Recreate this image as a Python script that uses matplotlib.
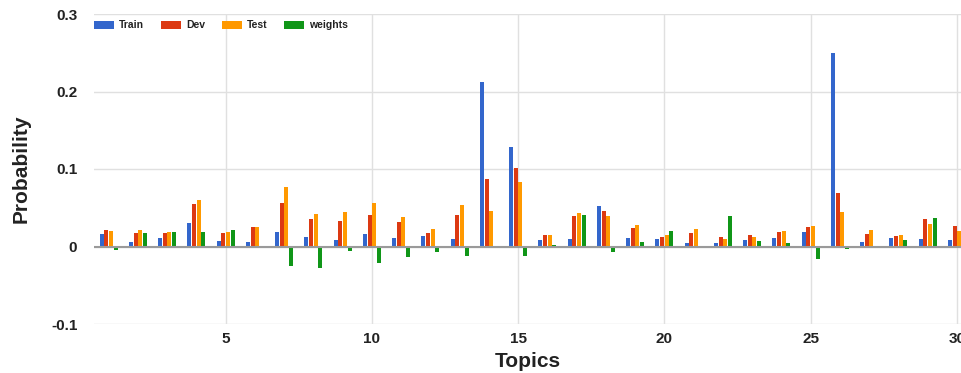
import matplotlib
matplotlib.use("Agg")
import matplotlib.pyplot as plt
import numpy as np

topics = list(range(1, 31))
train = [0.0164, 0.0060, 0.0108, 0.0297, 0.0069, 0.0056, 0.0190, 0.0129, 0.0086, 0.0155,
         0.0112, 0.0134, 0.0099, 0.2125, 0.1280, 0.0086, 0.0099, 0.0522, 0.0108, 0.0099,
         0.0047, 0.0047, 0.0082, 0.0112, 0.0181, 0.2502, 0.0056, 0.0108, 0.0099, 0.0086]
dev = [0.0207, 0.0168, 0.0172, 0.0543, 0.0177, 0.0254, 0.0565, 0.0349, 0.0323, 0.0401,
       0.0310, 0.0168, 0.0401, 0.0871, 0.1015, 0.0147, 0.0388, 0.0457, 0.0241, 0.0121,
       0.0177, 0.0121, 0.0147, 0.0181, 0.0254, 0.0690, 0.0155, 0.0134, 0.0353, 0.0263]
test = [0.0194, 0.0207, 0.0185, 0.0603, 0.0185, 0.0250, 0.0772, 0.0418, 0.0440, 0.0556,
        0.0375, 0.0224, 0.0534, 0.0461, 0.0828, 0.0147, 0.0435, 0.0388, 0.0276, 0.0142,
        0.0228, 0.0095, 0.0125, 0.0203, 0.0267, 0.0447, 0.0211, 0.0151, 0.0293, 0.0194]
weights = [-0.0043, 0.0168, 0.0185, 0.0181, 0.0216, 0.0005, -0.0246, -0.0280, -0.0056, -0.0216,
           -0.0138, -0.0065, -0.0125, 0.0005, -0.0125, 0.0022, 0.0410, -0.0069, 0.0060, 0.0198,
           0.0006, 0.0397, 0.0073, 0.0039, -0.0155, -0.0030, 0.0009, 0.0086, 0.0371, 0.0010]
series_names = ["Train", "Dev", "Test", "weights"]
colors = ["#3366CC", "#DC3912", "#FF9900", "#109618"]
yticks = [-0.1, 0, 0.1, 0.2, 0.3]
ytick_labels = ["-0.1", "0", "0.1", "0.2", "0.3"]
xticks = [5, 10, 15, 20, 25, 30]

fig = plt.figure(figsize=(9.61, 3.73), dpi=100)
ax = fig.add_axes([94/961, 49/373, 867/961, 310/373])

x = np.array(topics, dtype=float)
step = 0.159
width = 0.137
for i, (vals, name, c) in enumerate(zip([train, dev, test, weights], series_names, colors)):
    ax.bar(x + (i - 1.5) * step, vals, width=width, color=c, label=name, linewidth=0, zorder=3)

ax.set_xlim(0.5, 30.14)
ax.set_ylim(-0.1, 0.3)
ax.set_yticks(yticks)
ax.set_yticklabels(ytick_labels)
ax.set_xticks(xticks)
for s in ax.spines.values():
    s.set_visible(False)
ax.tick_params(length=0, labelsize=11, colors="#222222")
ax.tick_params(axis="y", pad=12)
ax.tick_params(axis="x", pad=6)
for lab in ax.get_xticklabels() + ax.get_yticklabels():
    lab.set_fontweight("bold")
    lab.set_family("Liberation Sans")
ax.grid(True, color="#e0e0e0", linewidth=1, zorder=0)
ax.axhline(0, color="#9a9a9a", linewidth=1.5, zorder=4)

ax.set_xlabel("Topics", fontsize=15, fontweight="bold", family="Liberation Sans", color="#222222", labelpad=4)
ax.set_ylabel("Probability", fontsize=15, fontweight="bold", family="Liberation Sans", color="#222222", labelpad=15)

leg = ax.legend(loc="center left", bbox_to_anchor=(0, 1 - 11.5/310), ncol=4, frameon=False,
                borderpad=0, borderaxespad=0, handlelength=1.92, handleheight=0.85,
                handletextpad=0.5, columnspacing=1.6,
                prop={"family": "Liberation Sans", "weight": "bold", "size": 7.5})
for t in leg.get_texts():
    t.set_color("#222222")

fig.savefig("out.png", dpi=100)
